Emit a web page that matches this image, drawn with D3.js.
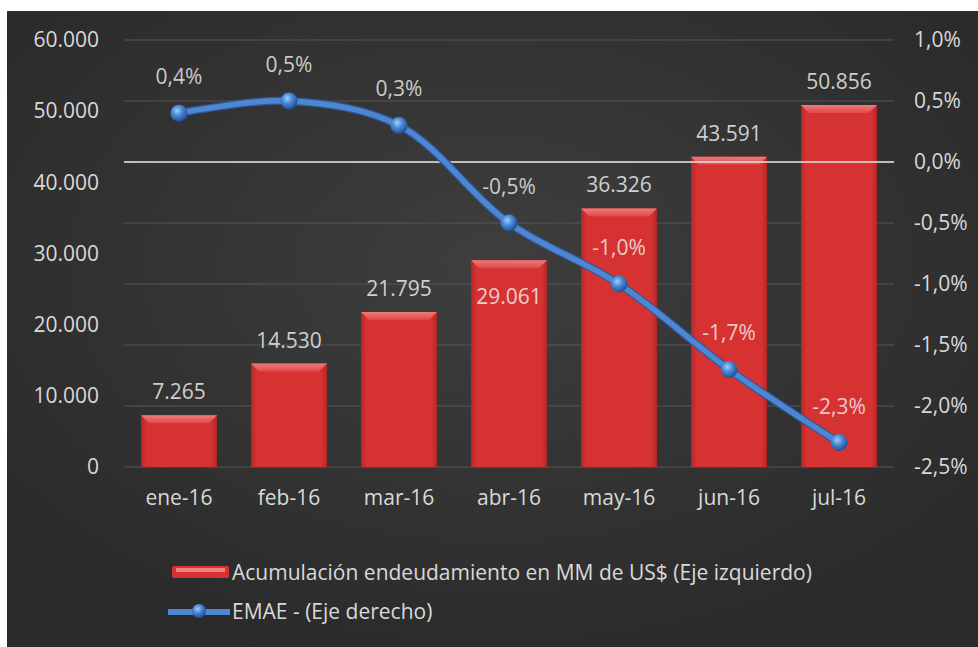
<!DOCTYPE html>
<html>
<head>
<meta charset="utf-8">
<script src="https://cdn.jsdelivr.net/npm/d3@7"></script>
<style>
  body { margin: 0; background: #ffffff; }
  svg text { font-family: "Open Sans", "Noto Sans", sans-serif; }
</style>
</head>
<body>
<div id="chart"></div>
<script>
// data
var months = ["ene-16", "feb-16", "mar-16", "abr-16", "may-16", "jun-16", "jul-16"];
var deuda = [7265, 14530, 21795, 29061, 36326, 43591, 50856];
var emae = [0.4, 0.5, 0.3, -0.5, -1.0, -1.7, -2.3];
var leftTicks = [0, 10000, 20000, 30000, 40000, 50000, 60000];
var rightTicks = [-2.5, -2.0, -1.5, -1.0, -0.5, 0.0, 0.5, 1.0];
var insideLabels = [3]; // bar labels drawn inside the bar (abr-16)
var legendNames = ["Acumulación endeudamiento en MM de US$ (Eje izquierdo)", "EMAE - (Eje derecho)"];

var W = 978, H = 647;
var pLeft = 124, pRight = 894, pTop = 40, pBottom = 467;
var fs = "21px";

var loc = d3.formatLocale({decimal: ",", thousands: ".", grouping: [3], currency: ["$", ""], minus: "-"});
var fmtMiles = loc.format(",.0f");
var fmtPct = function(v) { return loc.format(".1f")(v) + "%"; };

var svg = d3.select("#chart").append("svg")
  .attr("width", W)
  .attr("height", H);

var defs = svg.append("defs");

var bg = defs.append("radialGradient").attr("id", "bg")
  .attr("cx", "50%").attr("cy", "40%").attr("r", "65%");
bg.append("stop").attr("offset", "0%").attr("stop-color", "#3e3e3e");
bg.append("stop").attr("offset", "100%").attr("stop-color", "#2a2a2a");

var barG = defs.append("linearGradient").attr("id", "barG")
  .attr("x1", "0").attr("x2", "1").attr("y1", "0").attr("y2", "0");
barG.append("stop").attr("offset", "0%").attr("stop-color", "#b52626");
barG.append("stop").attr("offset", "7%").attr("stop-color", "#d63232");
barG.append("stop").attr("offset", "93%").attr("stop-color", "#d63232");
barG.append("stop").attr("offset", "100%").attr("stop-color", "#b52626");

var bevel = defs.append("linearGradient").attr("id", "bevel")
  .attr("x1", "0").attr("x2", "0").attr("y1", "0").attr("y2", "1");
bevel.append("stop").attr("offset", "0%").attr("stop-color", "#f07a7a");
bevel.append("stop").attr("offset", "100%").attr("stop-color", "#e04848");

var ball = defs.append("radialGradient").attr("id", "ball")
  .attr("cx", "40%").attr("cy", "35%").attr("r", "65%");
ball.append("stop").attr("offset", "0%").attr("stop-color", "#9fd0ff");
ball.append("stop").attr("offset", "45%").attr("stop-color", "#4b8ad6");
ball.append("stop").attr("offset", "100%").attr("stop-color", "#1f4f93");

// background
svg.append("rect")
  .attr("x", 7).attr("y", 11)
  .attr("width", W - 7).attr("height", H - 11)
  .attr("fill", "url(#bg)");

var x = d3.scaleBand().domain(months).range([pLeft, pRight]).paddingInner(0.31).paddingOuter(0.155);
var yL = d3.scaleLinear().domain([0, 60000]).range([pBottom, pTop]);
var yR = d3.scaleLinear().domain([-2.5, 1.0]).range([pBottom, pTop]);

// gridlines from right axis
svg.append("g").selectAll("line")
  .data(rightTicks)
  .join("line")
  .attr("x1", pLeft).attr("x2", pRight)
  .attr("y1", function(d) { return yR(d); })
  .attr("y2", function(d) { return yR(d); })
  .attr("stroke", "#575757")
  .attr("stroke-width", 1);

// bars
var bars = svg.append("g");
bars.selectAll("rect")
  .data(deuda)
  .join("rect")
  .attr("x", function(d, i) { return x(months[i]); })
  .attr("y", function(d) { return yL(d); })
  .attr("width", x.bandwidth())
  .attr("height", function(d) { return pBottom - yL(d); })
  .attr("fill", "url(#barG)");
bars.selectAll("polygon")
  .data(deuda)
  .join("polygon")
  .attr("points", function(d, i) {
    var x0 = x(months[i]), x1 = x0 + x.bandwidth(), y0 = yL(d), b = 8;
    return [[x0, y0], [x1, y0], [x1 - b, y0 + b], [x0 + b, y0 + b]].join(" ");
  })
  .attr("fill", "url(#bevel)");

// zero line
svg.append("line")
  .attr("x1", pLeft).attr("x2", pRight)
  .attr("y1", yR(0)).attr("y2", yR(0))
  .attr("stroke", "#e6e6e6")
  .attr("stroke-width", 1.5);

// axes
var axL = svg.append("g")
  .attr("transform", "translate(" + (pLeft - 22) + ",0)")
  .call(d3.axisLeft(yL).tickValues(leftTicks).tickSize(0).tickFormat(fmtMiles));
var axR = svg.append("g")
  .attr("transform", "translate(" + (pRight + 20) + ",0)")
  .call(d3.axisRight(yR).tickValues(rightTicks).tickSize(0).tickFormat(fmtPct));
var axB = svg.append("g")
  .attr("transform", "translate(0," + (pBottom + 20) + ")")
  .call(d3.axisBottom(x).tickSize(0));
[axL, axR, axB].forEach(function(a) {
  a.select(".domain").remove();
  a.selectAll("text")
    .attr("fill", "#d9d9d9")
    .style("font-size", fs)
    .style("font-family", "'Open Sans', sans-serif");
});
axR.selectAll("text").attr("x", 0);
axB.selectAll("text").attr("dy", "0.71em");

// bar value labels
svg.append("g").selectAll("text")
  .data(deuda)
  .join("text")
  .attr("x", function(d, i) { return x(months[i]) + x.bandwidth() / 2; })
  .attr("y", function(d, i) {
    return insideLabels.indexOf(i) >= 0 ? yL(d) + 44 : yL(d) - 16;
  })
  .attr("text-anchor", "middle")
  .attr("fill", "#f2f2f2")
  .attr("fill-opacity", 0.82)
  .style("font-size", fs)
  .text(function(d) { return fmtMiles(d); });

// EMAE line
var pts = emae.map(function(v, i) { return [x(months[i]) + x.bandwidth() / 2, yR(v)]; });
var line = d3.line().curve(d3.curveCatmullRom.alpha(0.5));
svg.append("path")
  .attr("d", line(pts))
  .attr("fill", "none")
  .attr("stroke", "#2c5a9c")
  .attr("stroke-width", 8)
  .attr("stroke-linecap", "round");
svg.append("path")
  .attr("d", line(pts))
  .attr("fill", "none")
  .attr("stroke", "#4f86d2")
  .attr("stroke-width", 5.5)
  .attr("stroke-linecap", "round");
svg.append("g").selectAll("circle")
  .data(pts)
  .join("circle")
  .attr("cx", function(d) { return d[0]; })
  .attr("cy", function(d) { return d[1]; })
  .attr("r", 8.5)
  .attr("fill", "url(#ball)");

// EMAE labels
svg.append("g").selectAll("text")
  .data(emae)
  .join("text")
  .attr("x", function(d, i) { return pts[i][0]; })
  .attr("y", function(d, i) { return pts[i][1] - 29; })
  .attr("text-anchor", "middle")
  .attr("fill", "#f2f2f2")
  .attr("fill-opacity", 0.8)
  .style("font-size", fs)
  .text(function(d) { return fmtPct(d); });

// legend
var lg = svg.append("g");
lg.append("rect")
  .attr("x", 172).attr("y", 566)
  .attr("width", 57).attr("height", 12)
  .attr("rx", 2)
  .attr("fill", "#d63232");
lg.append("rect")
  .attr("x", 176).attr("y", 568)
  .attr("width", 49).attr("height", 4)
  .attr("fill", "#f08080");
lg.append("line")
  .attr("x1", 168).attr("x2", 230)
  .attr("y1", 612).attr("y2", 612)
  .attr("stroke", "#4f86d2")
  .attr("stroke-width", 6);
lg.append("circle")
  .attr("cx", 199).attr("cy", 611)
  .attr("r", 7)
  .attr("fill", "url(#ball)");
lg.selectAll("text")
  .data(legendNames)
  .join("text")
  .attr("x", 232)
  .attr("y", function(d, i) { return 573 + i * 39; })
  .attr("dy", "0.35em")
  .attr("fill", "#d9d9d9")
  .style("font-size", fs)
  .text(function(d) { return d; });
</script>
</body>
</html>
